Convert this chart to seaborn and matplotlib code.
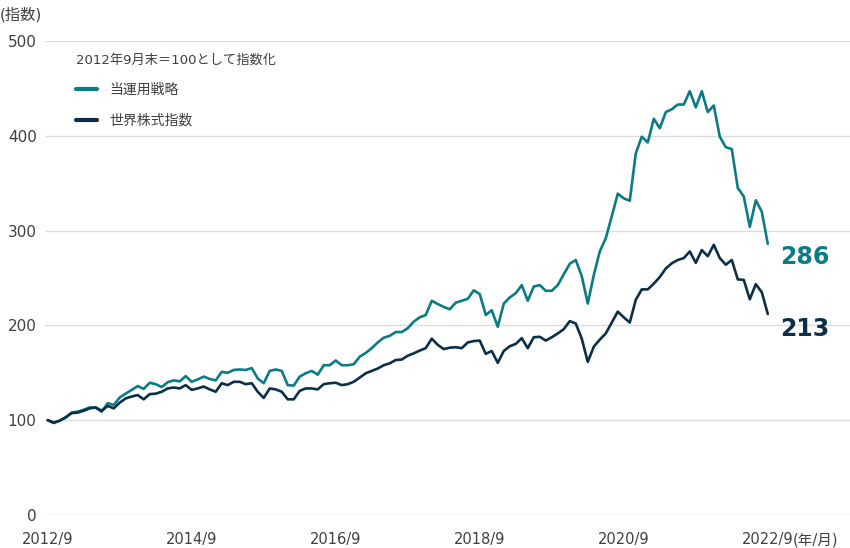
import numpy as np
import pandas as pd
import matplotlib
matplotlib.use("Agg")
import matplotlib.pyplot as plt
import seaborn as sns

# 月末指数 (2012/9 = 100), 2012/9 - 2022/9
strategy = [100, 97, 99.5, 103, 108, 109, 111, 113.5, 113, 109, 118, 116, 124, 128, 132, 136, 133, 139.5, 138, 135, 140,
            142, 141, 146.5, 140.5, 143, 146, 143.5, 142, 151, 150, 153, 153.5, 153, 155, 144, 139, 152, 153.5, 152, 137,
            136.5, 146, 149.5, 152, 148, 158, 158, 163, 158, 158, 159, 167, 171, 176, 182, 187, 189, 193, 193, 197,
            204, 208.5, 211, 226, 222.5, 219.5, 217, 224, 226, 228, 237, 233, 211, 216, 198.5, 223, 229.5, 234, 242.5, 226,
            241, 242.5, 236.5, 236.5, 242.5, 254, 265, 269, 252, 223, 253, 278, 292, 315, 339, 334, 331.5, 381.5, 399, 393,
            418, 408, 425, 428, 433, 433, 447, 430, 447, 425, 432, 399, 388, 386, 345, 336, 304, 332, 320, 286]
world = [100, 97.5, 99.5, 103, 107.5, 108, 110, 112.5, 113.5, 110, 115, 112.5, 118.5, 123, 125, 126.5, 122, 127.5, 128, 130, 133.5,
         134.5, 133.5, 137, 132, 133.5, 135.5, 132.5, 130, 139, 137, 140.5, 140.5, 138, 139, 130, 123.5, 133.5, 132.5, 130, 122,
         122, 131, 133.5, 133.5, 132.5, 138, 139, 139.5, 137, 138, 140.5, 145, 149.5, 152, 154.5, 158, 160, 163.5, 164, 168,
         170.5, 173.5, 176, 186, 179.5, 175, 176.5, 177, 176, 182, 183.5, 184, 170, 173, 160.5, 173, 178, 180.5, 186.5, 176,
         187.5, 188, 184, 187.5, 191.5, 196, 204.5, 202, 186, 161.5, 177.5, 185, 191.5, 203, 214.5, 208.5, 203, 227, 238, 238,
         244, 251, 260, 265.5, 269, 271, 278, 266, 279.5, 273, 285, 271, 264, 269, 248.5, 248, 227.5, 243.5, 235, 212]
series_names = ["当運用戦略", "世界株式指数"]
tick_labels = ["2012/9", "2014/9", "2016/9", "2018/9", "2020/9", "2022/9"]
end_labels = ["286", "213"]

teal = "#0b7b86"
navy = "#0c2f48"

months = np.arange(len(strategy))
df = pd.DataFrame({
    "month": np.concatenate([months, months]),
    "value": strategy + world,
    "series": [series_names[0]] * len(strategy) + [series_names[1]] * len(world),
})

sns.set_style("white")
plt.rcParams["font.family"] = ["DejaVu Sans", "Noto Sans CJK JP"]

fig = plt.figure(figsize=(8.5, 5.48), dpi=100)
ax = fig.add_axes([45 / 850, 1 - 515 / 548, 1 - 45 / 850, (515 - 41) / 548])

sns.lineplot(data=df, x="month", y="value", hue="series", palette=[teal, navy],
             linewidth=1.9, ax=ax)

ax.set_xlim(-0.45, 133.7)
ax.set_ylim(0, 500)
ax.set_yticks([0, 100, 200, 300, 400, 500])
ax.set_xticks(np.arange(0, 121, 24))
ax.set_xticklabels(tick_labels)
ax.grid(axis="y", color="#dcdcdc", linewidth=1)
ax.set_axisbelow(True)
sns.despine(ax=ax, left=True, bottom=True)
ax.tick_params(axis="y", length=0, labelsize=11, labelcolor="#404040", pad=6)
ax.tick_params(axis="x", length=0, labelsize=10.5, labelcolor="#404040", pad=12)
ax.set_xlabel("")
ax.set_ylabel("")

fig.text(0.0, 1 - 15 / 548, "(指数)", fontsize=11, color="#404040", va="center", ha="left")
fig.text(793 / 850, 1 - 540 / 548, "(年/月)", fontsize=10.5, color="#404040", va="center", ha="left")

leg = ax.legend(title="2012年9月末＝100として指数化", loc="upper left",
                bbox_to_anchor=(67 / 850 - 45 / 805, 1.0), frameon=False,
                fontsize=10, title_fontsize=9.5, handlelength=1.5, handletextpad=0.9,
                labelspacing=1.2)
leg._legend_box.align = "left"
leg.get_title().set_color("#404040")
for t in leg.get_texts():
    t.set_color("#404040")
for h in leg.legend_handles:
    h.set_linewidth(3)

ax.text(122.1, strategy[-1] - 14, end_labels[0], color=teal, fontsize=17, fontweight="bold", va="center", ha="left")
ax.text(122.1, world[-1] - 16, end_labels[1], color=navy, fontsize=17, fontweight="bold", va="center", ha="left")

fig.savefig("out.png", dpi=100)
